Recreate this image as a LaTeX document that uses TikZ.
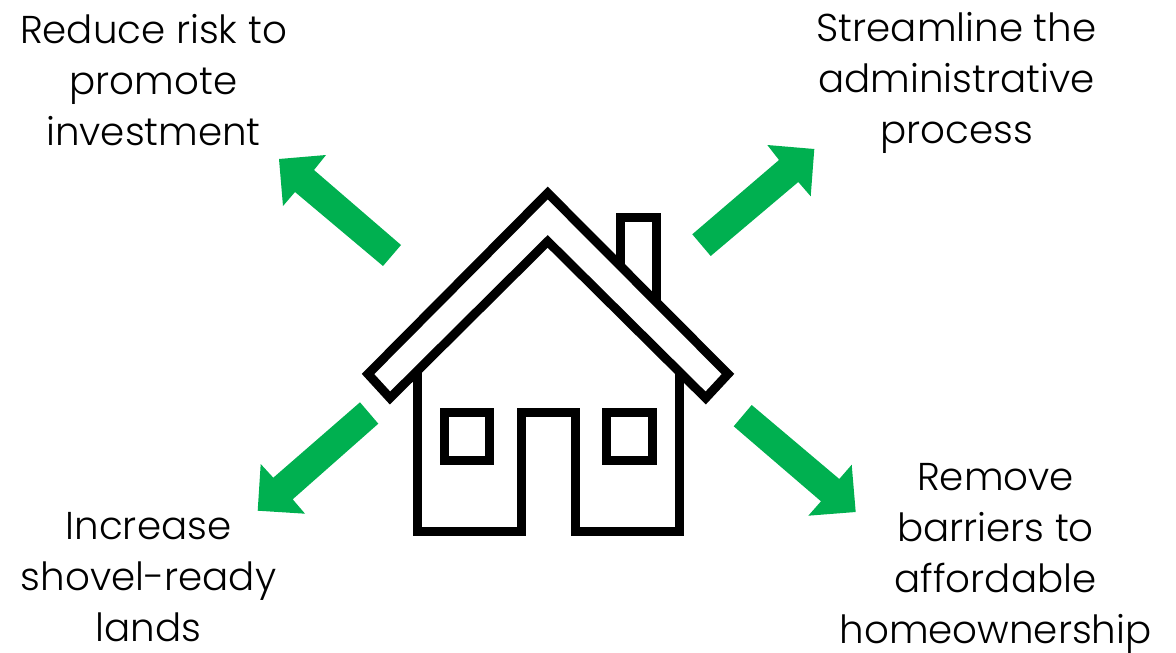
\documentclass[tikz,border=0pt]{standalone}
\usepackage{fontspec}
\setmainfont{Poppins}[UprightFont=* Light]
\definecolor{arrowgreen}{RGB}{0,176,80}
\tikzset{x=1pt,y=-1pt,
 lbl/.style={align=center,font=\fontsize{38.8}{51}\selectfont,inner sep=0pt,text=black},
 flow/.style={fill=arrowgreen,draw=none},
 house/.style={draw=black,line width=9pt,miter limit=10,line join=miter}}
\begin{document}
\begin{tikzpicture}
\useasboundingbox (0,0) rectangle (1176,653);
\node[lbl] (a) at (153.5,80.5) {Reduce risk to\\promote\\investment};
\node[lbl] (b) at (956.5,82.5) {Streamline the\\administrative\\process};
\node[lbl] (c) at (148.5,577.5) {Increase\\shovel-ready\\lands};
\node[lbl] (d) at (995.5,558.5) {Remove\\barriers to\\affordable\\homeownership};
\fill[flow] (401,245) -- (383,266) -- (295,192) -- (283,206) -- (279,159) -- (326,155) -- (314,170) -- cycle;
\fill[flow] (692.3,234.3) -- (710.7,256) -- (798.3,182) -- (810.7,196.3) -- (814.3,149) -- (767.3,145) -- (779,160) -- cycle;
\fill[flow] (360,402.3) -- (378.3,423.7) -- (292.7,499.3) -- (305,513.7) -- (257.7,510.7) -- (260.7,464) -- (273.3,477.7) -- cycle;
\fill[flow] (751.7,405) -- (733.7,426.3) -- (821,501.3) -- (808.3,515.7) -- (855.7,512) -- (851.7,464.7) -- (839.3,479) -- cycle;
\draw[house] (417,372) -- (417,531) -- (521,531) -- (521,412) -- (575,412) -- (575,531) -- (679,531) -- (679,372);
\draw[house] (620,268) -- (620,217) -- (656.3,217) -- (656.3,301);
\draw[house] (444,412) rectangle (489.3,460);
\draw[house] (606.5,412) rectangle (652,460);
\draw[house] (547.7,193) -- (728,374) -- (705.7,398) -- (547.7,241.4) -- (390,398) -- (368,374) -- cycle;
\end{tikzpicture}
\end{document}
